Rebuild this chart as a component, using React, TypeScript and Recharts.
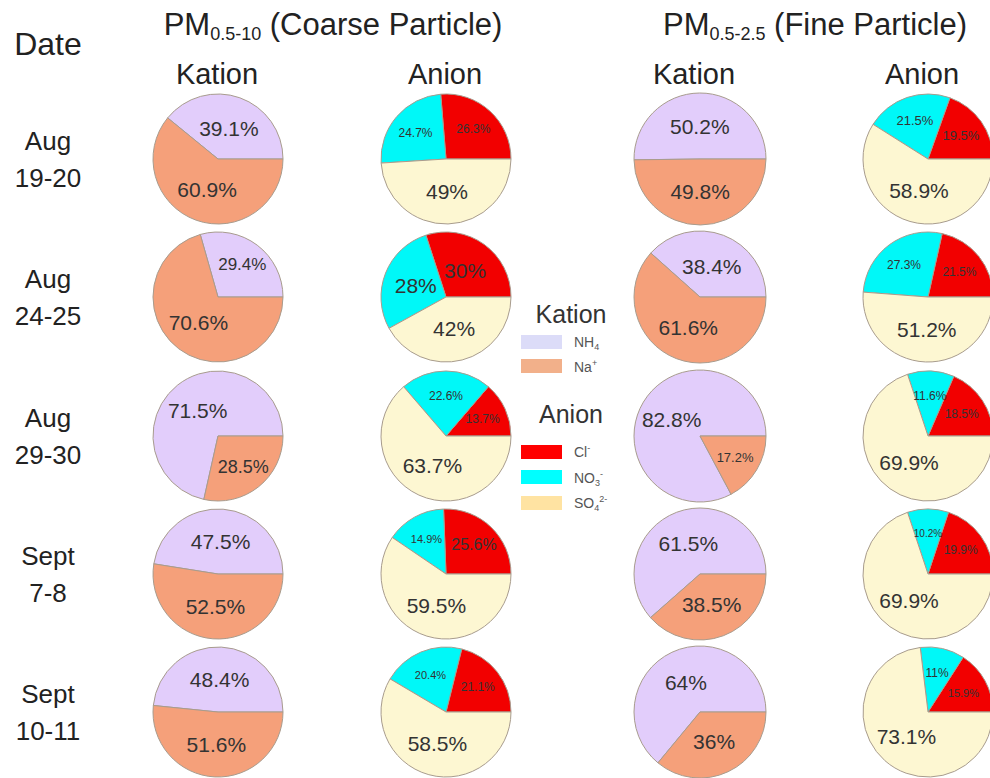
import { PieChart, Pie, Cell } from "recharts"

// Sampling dates (two lines each)
const dateTop = ["Aug", "Aug", "Aug", "Sept", "Sept"]
const dateBottom = ["19-20", "24-25", "29-30", "7-8", "10-11"]

// PM0.5-10 (coarse), % share
const coarseNH4 = [39.1, 29.4, 71.5, 47.5, 48.4]
const coarseNa = [60.9, 70.6, 28.5, 52.5, 51.6]
const coarseCl = [26.3, 30, 13.7, 25.6, 21.1]
const coarseNO3 = [24.7, 28, 22.6, 14.9, 20.4]
const coarseSO4 = [49, 42, 63.7, 59.5, 58.5]

// PM0.5-2.5 (fine), % share
const fineNH4 = [50.2, 38.4, 82.8, 61.5, 64]
const fineNa = [49.8, 61.6, 17.2, 38.5, 36]
const fineCl = [19.5, 21.5, 18.5, 19.9, 15.9]
const fineNO3 = [21.5, 27.3, 11.6, 10.2, 11]
const fineSO4 = [58.9, 51.2, 69.9, 69.9, 73.1]

const COLORS = {
  NH4: "#e2cdfb",
  Na: "#f5a07a",
  Cl: "#f20000",
  NO3: "#00f8f8",
  SO4: "#fdf7d2",
}

const LEGEND_COLORS = {
  NH4: "#dcdcf8",
  Na: "#f2b08a",
  Cl: "#ff0000",
  NO3: "#00ffff",
  SO4: "#ffe3a2",
}

// label font size per slice (rows x slices)
const LABEL_SIZES: Record<string, number[][]> = {
  coarseKation: [[21, 21], [17, 21], [21, 18], [21, 21], [21, 21]],
  coarseAnion: [[12, 12, 21], [21, 21, 21], [12, 12, 21], [16, 11, 21], [12, 11, 21]],
  fineKation: [[21, 21], [21, 21], [21, 13], [21, 21], [21, 21]],
  fineAnion: [[13, 13, 21], [12, 12, 21], [12, 12, 21], [12, 10, 21], [11, 12, 21]],
}

const panels = [
  { key: "coarseKation", x: 218, r: 65, series: [{ name: "NH4", values: coarseNH4 }, { name: "Na", values: coarseNa }] },
  { key: "coarseAnion", x: 446, r: 65, series: [{ name: "Cl", values: coarseCl }, { name: "NO3", values: coarseNO3 }, { name: "SO4", values: coarseSO4 }] },
  { key: "fineKation", x: 700, r: 66, series: [{ name: "NH4", values: fineNH4 }, { name: "Na", values: fineNa }] },
  { key: "fineAnion", x: 928, r: 65, series: [{ name: "Cl", values: fineCl }, { name: "NO3", values: fineNO3 }, { name: "SO4", values: fineSO4 }] },
]

const ROW_Y = [159, 297, 436, 574, 712]
const FONT = "'Liberation Sans', Arial, sans-serif"
const RADIAN = Math.PI / 180

function SmallPie({ panel, row }: { panel: (typeof panels)[number]; row: number }) {
  const data = panel.series.map((s) => ({ name: s.name, value: s.values[row] }))
  const sizes = LABEL_SIZES[panel.key][row]
  const w = 160
  const h = 150

  const renderLabel = (props: any) => {
    const { cx, cy, midAngle, outerRadius, index, value } = props
    const fs = sizes[index]
    const rr = outerRadius * (fs >= 20 ? 0.5 : 0.62)
    const x = cx + rr * Math.cos(-midAngle * RADIAN)
    const y = cy + rr * Math.sin(-midAngle * RADIAN)
    return (
      <text x={x} y={y} textAnchor="middle" dominantBaseline="central" fontSize={fs} fill="#333" fontFamily={FONT}>
        {`${value}%`}
      </text>
    )
  }

  return (
    <div style={{ position: "absolute", left: panel.x - w / 2, top: ROW_Y[row] - h / 2 }}>
      <PieChart width={w} height={h} margin={{ top: 0, right: 0, bottom: 0, left: 0 }}>
        <Pie
          data={data}
          dataKey="value"
          cx={w / 2}
          cy={h / 2}
          outerRadius={panel.r}
          startAngle={0}
          endAngle={360}
          stroke="#a89c8e"
          strokeWidth={1}
          label={renderLabel}
          labelLine={false}
          isAnimationActive={false}
        >
          {data.map((d) => (
            <Cell key={d.name} fill={COLORS[d.name as keyof typeof COLORS]} />
          ))}
        </Pie>
      </PieChart>
    </div>
  )
}

export default function App() {
  return (
    <div style={{ position: "absolute", left: 0, top: 0, width: 990, height: 778, overflow: "hidden", background: "#fff" }}>
      {panels.map((p) => ROW_Y.map((_, i) => <SmallPie key={p.key + i} panel={p} row={i} />))}

      <svg width={990} height={778} style={{ position: "absolute", left: 0, top: 0, pointerEvents: "none" }} fontFamily={FONT}>
        {/* column headers */}
        <text x={333} y={35} fontSize={31} fill="#222" textAnchor="middle">
          PM<tspan fontSize={18} dy={5}>0.5-10</tspan>
          <tspan dy={-5}> (Coarse Particle)</tspan>
        </text>
        <text x={815} y={35} fontSize={31} fill="#222" textAnchor="middle">
          PM<tspan fontSize={18} dy={5}>0.5-2.5</tspan>
          <tspan dy={-5}> (Fine Particle)</tspan>
        </text>
        <text x={217} y={84} fontSize={29} fill="#222" textAnchor="middle">Kation</text>
        <text x={445} y={84} fontSize={29} fill="#222" textAnchor="middle">Anion</text>
        <text x={694} y={84} fontSize={29} fill="#222" textAnchor="middle">Kation</text>
        <text x={922} y={84} fontSize={29} fill="#222" textAnchor="middle">Anion</text>

        {/* date column */}
        <text x={48} y={55} fontSize={32} fill="#222" textAnchor="middle">Date</text>
        {ROW_Y.map((y, i) => (
          <g key={i}>
            <text x={48} y={y - 9} fontSize={26} fill="#222" textAnchor="middle">{dateTop[i]}</text>
            <text x={48} y={y + 28} fontSize={26} fill="#222" textAnchor="middle">{dateBottom[i]}</text>
          </g>
        ))}

        {/* legend */}
        <text x={571} y={323} fontSize={25} fill="#333" textAnchor="middle">Kation</text>
        <rect x={521} y={335} width={41} height={14} fill={LEGEND_COLORS.NH4} />
        <text x={574} y={347} fontSize={14} fill="#555">
          NH<tspan fontSize={9} dy={3}>4</tspan>
        </text>
        <rect x={521} y={359} width={41} height={14} fill={LEGEND_COLORS.Na} />
        <text x={574} y={372} fontSize={14} fill="#555">
          Na<tspan fontSize={9} dy={-6}>+</tspan>
        </text>

        <text x={571} y={423} fontSize={25} fill="#333" textAnchor="middle">Anion</text>
        <rect x={521} y={445} width={41} height={14} fill={LEGEND_COLORS.Cl} />
        <text x={574} y={457} fontSize={14} fill="#555">
          Cl<tspan fontSize={9} dy={-6}>-</tspan>
        </text>
        <rect x={521} y={470} width={41} height={14} fill={LEGEND_COLORS.NO3} />
        <text x={574} y={483} fontSize={14} fill="#555">
          NO<tspan fontSize={9} dy={3}>3</tspan>
          <tspan fontSize={9} dy={-9}>-</tspan>
        </text>
        <rect x={521} y={496} width={41} height={14} fill={LEGEND_COLORS.SO4} />
        <text x={574} y={508} fontSize={14} fill="#555">
          SO<tspan fontSize={9} dy={3}>4</tspan>
          <tspan fontSize={9} dy={-9}>2-</tspan>
        </text>
      </svg>
    </div>
  )
}
